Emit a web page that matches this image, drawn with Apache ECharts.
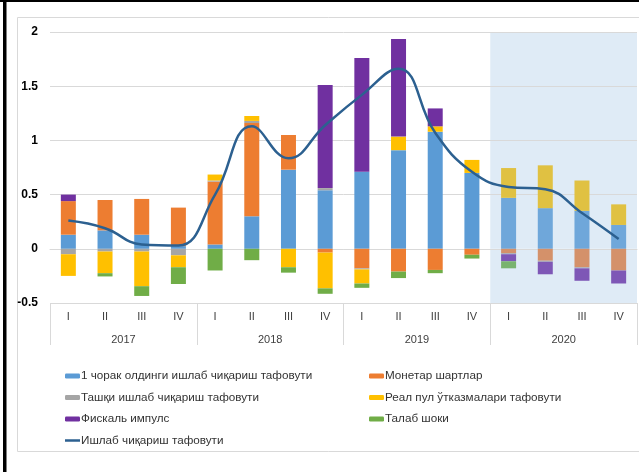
<!DOCTYPE html>
<html>
<head>
<meta charset="utf-8">
<script src="https://cdn.jsdelivr.net/npm/echarts@6/dist/echarts.min.js"></script>
<style>html,body{margin:0;padding:0;background:#fff}#c{width:639px;height:472px}</style>
</head>
<body>
<div id="c"></div>
<script>
const quarters = ['I','II','III','IV','I','II','III','IV','I','II','III','IV','I','II','III','IV'];
const years = ['2017','2018','2019','2020'];
const prevGap   = [0.13, 0.17, 0.13, 0.025, 0.04, 0.30, 0.73, 0.54, 0.71, 0.91, 1.08, 0.70, 0.47, 0.375, 0.35, 0.22];
const monetary  = [0.31, 0.28, 0.33, 0.355, 0.58, 0.86, 0.32, -0.035, -0.18, -0.21, -0.195, -0.055, -0.04, -0.11, -0.17, -0.20];
const external  = [-0.05, -0.025, -0.025, -0.06, 0.01, 0.02, 0, 0.02, -0.01, 0, 0, 0, -0.01, -0.01, -0.01, 0];
const remit     = [-0.20, -0.20, -0.32, -0.11, 0.055, 0.045, -0.17, -0.33, -0.13, 0.125, 0.05, 0.12, 0.275, 0.395, 0.28, 0.19];
const fiscal    = [0.06, 0, 0, 0, 0, 0, 0, 0.95, 1.05, 0.90, 0.165, 0, -0.065, -0.115, -0.115, -0.12];
const demand    = [0, -0.03, -0.09, -0.155, -0.20, -0.105, -0.05, -0.05, -0.04, -0.06, -0.03, -0.035, -0.065, 0, 0, 0];
const outputGap = [0.26, 0.19, 0.04, 0.03, 0.50, 1.13, 0.835, 1.14, 1.42, 1.66, 1.07, 0.71, 0.57, 0.55, 0.33, 0.09];
const forecastStart = 12;
const shadeTop = [null, null, null, 2];
const shadeBottom = [null, null, null, -0.5];

const names = ['1 чорак олдинги ишлаб чиқариш тафовути','Монетар шартлар','Ташқи ишлаб чиқариш тафовути','Реал пул ўтказмалари тафовути','Фискаль импулс','Талаб шоки','Ишлаб чиқариш тафовути'];
const colors = ['#5b9bd5','#ed7d31','#a5a5a5','#ffc000','#7030a0','#70ad47'];
const fcColors = ['#6fa7da','#d4916a','#a9abb3','#e0c142','#7e57b6','#79b36e'];
const barData = [prevGap, monetary, external, remit, fiscal, demand];

const chart = echarts.init(document.getElementById('c'), null, {renderer:'canvas'});
const font = 'Liberation Sans, Arial, sans-serif';

const series = [
  {type:'bar', xAxisIndex:1, stack:'bg', data:shadeTop, barWidth:'100%', itemStyle:{color:'#dfebf6'}, silent:true, z:-1},
  {type:'bar', xAxisIndex:1, stack:'bg', data:shadeBottom, barWidth:'100%', itemStyle:{color:'#dfebf6'}, silent:true, z:-1}
];
barData.forEach((arr, i) => {
  series.push({
    name: names[i], type:'bar', stack:'total', barWidth:15,
    itemStyle:{color: colors[i]},
    data: arr.map((v, j) => j >= forecastStart ? {value:v, itemStyle:{color: fcColors[i]}} : v)
  });
});
series.push({
  name: names[6], type:'line', data: outputGap, smooth:0.45, symbol:'none',
  lineStyle:{color:'#2c6090', width:2.5}, itemStyle:{color:'#2c6090'}, z:5
});

const lineIcon = 'path://M0,0 H30 V5 H0 Z';
const legendText = {fontSize:11.7, color:'#333', fontFamily:font, padding:[0,0,0,-4]};

chart.setOption({
  animation:false,
  textStyle:{fontFamily:font},
  graphic:[
    {type:'rect', shape:{x:17.5, y:17.5, width:640, height:434}, style:{fill:'none', stroke:'#d9d9d9', lineWidth:1}, z:-10},
    {type:'rect', shape:{x:0, y:0, width:639, height:2}, style:{fill:'#000'}},
    {type:'rect', shape:{x:3, y:0, width:3.5, height:472}, style:{fill:'#000'}}
  ],
  grid:{left:50, right:2, top:32, bottom:169},
  xAxis:[
    {type:'category', data:quarters, axisLine:{lineStyle:{color:'#d9d9d9'}}, axisTick:{show:false},
     axisLabel:{interval:0, margin:8, fontSize:11, color:'#404040', fontFamily:font}},
    {type:'category', data:years, position:'bottom', axisLine:{show:false},
     axisTick:{show:true, length:42, interval:0, lineStyle:{color:'#d9d9d9'}},
     axisLabel:{interval:0, margin:31, fontSize:11, color:'#404040', fontFamily:font}}
  ],
  yAxis:{type:'value', min:-0.5, max:2, interval:0.5,
    axisLine:{show:false}, axisTick:{show:false},
    splitLine:{lineStyle:{color:'#d9d9d9'}},
    axisLabel:{margin:12, fontSize:12, fontWeight:'bold', color:'#000', fontFamily:font}},
  legend:[
    {data:[names[0], names[2], names[4], {name:names[6], icon:lineIcon}], orient:'vertical', left:60, top:365, itemWidth:15, itemHeight:5, itemGap:9.5,
     textStyle:legendText},
    {data:[names[1], names[3], names[5]], orient:'vertical', left:364, top:365, itemWidth:15, itemHeight:5, itemGap:9.5,
     textStyle:legendText}
  ],
  series: series
});
</script>
</body>
</html>
